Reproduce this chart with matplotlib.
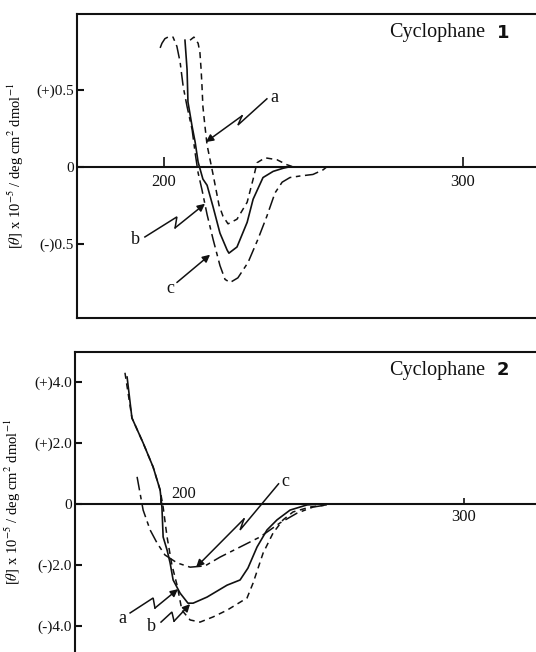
"""CD spectra of cyclophanes 1 and 2 (recreated from a scanned figure)."""
import matplotlib
matplotlib.use('Agg')
import matplotlib.pyplot as plt

plt.rcParams.update({
    'font.family': ['Liberation Serif', 'DejaVu Serif'],
    'mathtext.fontset': 'stix',
    'font.size': 10,
    'axes.edgecolor': '#111111',
    'axes.linewidth': 1.5,
})

INK = '#111111'

# ---- Cyclophane 1 (wavelength nm, [theta] x 10^-5) ----
c1_a_nm = [208.7, 210.0, 211.4, 212.0, 212.4, 212.7, 213.0, 213.7, 214.4, 215.4, 216.4,
           217.4, 218.4, 219.7, 221.4, 224.4, 227.8, 229.8, 231.1, 233.8, 237.8, 241.1, 243.1]
c1_a_val = [0.82, 0.84, 0.80, 0.74, 0.63, 0.52, 0.39, 0.26, 0.14, 0.045, -0.05,
            -0.15, -0.25, -0.32, -0.37, -0.34, -0.23, -0.08, 0.026, 0.058, 0.045, 0.013, 0.0]
c1_b_nm = [207.0, 207.7, 208.0, 209.4, 210.4, 211.4, 213.0, 214.4, 216.4, 218.7, 221.1,
           221.7, 224.4, 227.8, 229.8, 233.1, 236.5, 239.8, 242.1]
c1_b_val = [0.82, 0.63, 0.42, 0.26, 0.16, 0.03, -0.08, -0.12, -0.26, -0.43, -0.54,
            -0.56, -0.52, -0.36, -0.21, -0.07, -0.03, -0.01, 0.0]
c1_c_nm = [198.7, 199.3, 200.3, 201.3, 203.0, 204.3, 205.4, 206.4, 207.7, 209.4, 210.4,
           211.4, 212.7, 214.4, 216.4, 218.7, 220.4, 222.1, 224.7, 228.1, 231.4, 234.4,
           237.1, 239.5, 242.1, 245.5, 249.8, 253.2, 254.5]
c1_c_val = [0.77, 0.80, 0.83, 0.84, 0.84, 0.78, 0.675, 0.52, 0.39, 0.24, 0.09,
            -0.04, -0.15, -0.31, -0.47, -0.64, -0.73, -0.75, -0.72, -0.62, -0.47, -0.32,
            -0.17, -0.10, -0.07, -0.06, -0.05, -0.02, 0.0]

# ---- Cyclophane 2 ----
c2_a_nm = [188.1, 190.4, 194.1, 197.4, 199.7, 200.7, 202.0, 203.6, 205.3, 206.9, 209.6,
           212.9, 217.2, 221.8, 228.4, 230.4, 233.7, 237.0, 240.3, 243.6, 249.2, 256.8]
c2_a_val = [4.30, 2.82, 2.0, 1.21, 0.46, -0.10, -1.08, -2.0, -2.66, -3.48, -3.80,
            -3.87, -3.70, -3.48, -3.08, -2.59, -1.61, -0.95, -0.52, -0.26, -0.10, 0.0]
c2_b_nm = [188.8, 190.4, 194.1, 197.4, 199.7, 200.3, 200.7, 202.0, 203.0, 204.0, 206.3,
           208.9, 210.6, 215.2, 221.8, 226.1, 228.7, 231.7, 235.0, 238.3, 242.6, 248.2, 252.5]
c2_b_val = [4.16, 2.82, 2.0, 1.21, 0.46, -0.10, -1.08, -1.51, -1.93, -2.49, -2.92,
            -3.25, -3.25, -3.05, -2.66, -2.49, -2.10, -1.41, -0.85, -0.52, -0.20, -0.03, 0.0]
c2_c_nm = [192.1, 194.1, 196.4, 198.7, 201.3, 205.3, 209.6, 214.5, 219.5, 226.1, 232.7,
           239.3, 244.9, 250.2, 254.8]
c2_c_val = [0.89, -0.20, -0.85, -1.28, -1.67, -1.93, -2.07, -2.03, -1.74, -1.41, -1.08,
            -0.62, -0.30, -0.10, -0.03]

x_ticks = [200, 300]
c1_yticks = [0.5, 0.0, -0.5]
c1_ylabels = ['(+)0.5', '0', '(-)0.5']
c2_yticks = [4.0, 2.0, 0.0, -2.0, -4.0]
c2_ylabels = ['(+)4.0', '(+)2.0', '0', '(-)2.0', '(-)4.0']

STYLES = {
    'a': dict(ls=(0, (4, 3)), lw=1.1),
    'b': dict(ls='-', lw=1.2),
    'c': dict(ls=(0, (9, 3, 3, 3)), lw=1.1),
}
YLABEL = r'[$\theta$] x 10$^{-5}$ / deg cm$^{2}$ dmol$^{-1}$'


def bolt(ax, pts, label, label_xy):
    """Zig-zag arrow: polyline through pts with an arrowhead on the last segment."""
    xs, ys = zip(*pts)
    ax.plot(xs[:-1], ys[:-1], color=INK, lw=1.1, solid_joinstyle='miter')
    ax.annotate('', xy=pts[-1], xytext=pts[-2],
                arrowprops=dict(arrowstyle='-|>', color=INK, lw=1.1,
                                mutation_scale=11, shrinkA=0, shrinkB=0))
    ax.text(*label_xy, label, fontsize=13, ha='center', va='center', color=INK)


def setup(ax, yticks, ylabels, title_num, title_y):
    ax.axhline(0, color=INK, lw=1.5, zorder=1)
    ax.set_xticks([])
    ax.set_yticks(yticks)
    ax.set_yticklabels(ylabels, fontsize=11)
    ax.tick_params(axis='y', direction='in', length=5, width=1.5, pad=2, colors=INK)
    ax.spines['right'].set_visible(False)
    ax.set_ylabel(YLABEL, fontsize=10.5)
    ax.yaxis.set_label_coords(-0.112, 0.5)
    ax.text(0.89, title_y, 'Cyclophane', transform=ax.transAxes, ha='right',
            va='center', fontsize=14.5, color=INK)
    ax.text(0.915, title_y, title_num, transform=ax.transAxes, ha='left', va='center',
            fontsize=13, fontweight='bold', family='DejaVu Sans', color=INK)


fig = plt.figure(figsize=(5.36, 6.52), dpi=100)

# ---------------- top panel ----------------
ax1 = fig.add_axes([0.1437, 0.5123, 0.8563, 0.4663])
ax1.set_xlim(170.9, 324.4)
ax1.set_ylim(-0.98, 0.99)
setup(ax1, c1_yticks, c1_ylabels, '1', 0.9375)
ax1.plot(c1_a_nm, c1_a_val, color=INK, **STYLES['a'])
ax1.plot(c1_b_nm, c1_b_val, color=INK, **STYLES['b'])
ax1.plot(c1_c_nm, c1_c_val, color=INK, **STYLES['c'])
ax1.vlines(x_ticks, 0, 0.065, color=INK, lw=1.2)
for xt in x_ticks:
    ax1.text(xt, -0.045, str(xt), ha='center', va='top', fontsize=12, color=INK)

bolt(ax1, [(234.4, 0.44), (224.7, 0.27), (226.1, 0.33), (214.0, 0.16)], 'a', (237.0, 0.45))
bolt(ax1, [(193.6, -0.455), (204.3, -0.325), (203.7, -0.396), (213.7, -0.24)], 'b', (190.3, -0.474))
bolt(ax1, [(204.3, -0.75), (215.4, -0.57)], 'c', (202.0, -0.79))

# ---------------- bottom panel ----------------
ax2 = fig.add_axes([0.1399, 0.0, 0.8601, 0.4601])
ax2.set_xlim(171.6, 323.8)
ax2.set_ylim(-4.85, 4.98)
setup(ax2, c2_yticks, c2_ylabels, '2', 0.94)
ax2.spines['bottom'].set_visible(False)
ax2.plot(c2_a_nm, c2_a_val, color=INK, **STYLES['a'])
ax2.plot(c2_b_nm, c2_b_val, color=INK, **STYLES['b'])
ax2.plot(c2_c_nm, c2_c_val, color=INK, **STYLES['c'])
ax2.vlines(x_ticks, 0, 0.2, color=INK, lw=1.2)
ax2.text(x_ticks[0] + 3.5, 0.33, str(x_ticks[0]), ha='left', va='center', fontsize=12, color=INK)
ax2.text(x_ticks[1], -0.15, str(x_ticks[1]), ha='center', va='top', fontsize=12, color=INK)

bolt(ax2, [(238.8, 0.66), (226.1, -0.85), (227.4, -0.49), (211.6, -2.07)], 'c', (241.0, 0.74))
bolt(ax2, [(189.8, -3.57), (197.4, -3.08), (198.0, -3.41), (205.6, -2.79)], 'a', (187.1, -3.74))
bolt(ax2, [(200.0, -3.87), (203.6, -3.54), (204.3, -3.84), (209.6, -3.28)], 'b', (197.0, -4.03))

fig.savefig('out.png', dpi=100, facecolor='white')
plt.close(fig)
